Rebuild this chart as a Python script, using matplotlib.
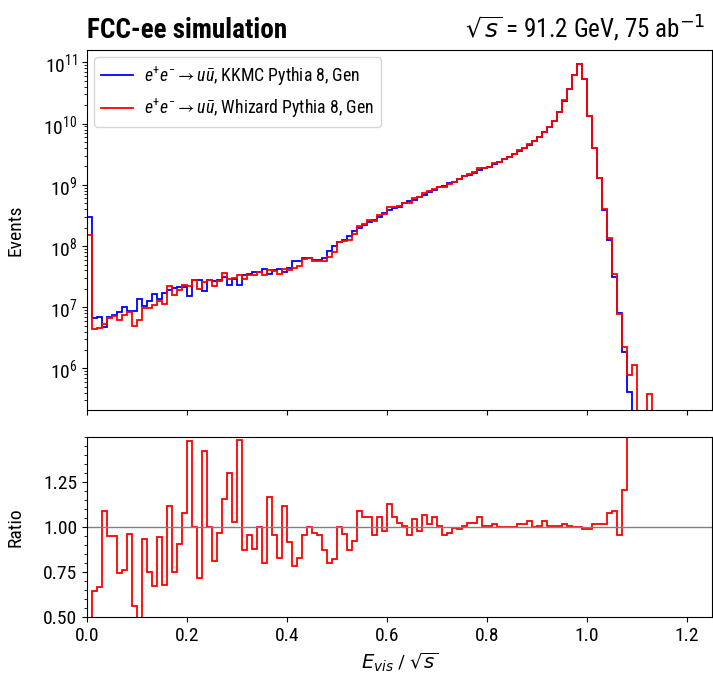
import numpy as np
import matplotlib
matplotlib.use('Agg')
import matplotlib.pyplot as plt
from matplotlib.ticker import MultipleLocator, LogLocator, FixedLocator, NullFormatter

# ---------------- data ----------------
bin_lo, bin_hi, bin_w = 0.0, 1.25, 0.01

kkmc_log10 = [8.47, 6.83, 6.84, 6.68, 6.84, 6.87, 6.93, 7.00, 6.94, 6.94,
              7.14, 7.02, 7.11, 7.21, 7.13, 7.23, 7.29, 7.32, 7.33, 7.33,
              7.18, 7.44, 7.44, 7.26, 7.44, 7.43, 7.44, 7.50, 7.36, 7.47,
              7.36, 7.52, 7.54, 7.58, 7.58, 7.63, 7.54, 7.61, 7.63, 7.58,
              7.65, 7.75, 7.75, 7.81, 7.81, 7.77, 7.77, 7.81, 7.92, 8.00,
              8.07, 8.10, 8.16, 8.24, 8.29, 8.34, 8.40, 8.43, 8.48, 8.54,
              8.59, 8.62, 8.64, 8.70, 8.73, 8.76, 8.81, 8.84, 8.89, 8.92,
              8.96, 8.99, 9.03, 9.05, 9.09, 9.14, 9.16, 9.20, 9.25, 9.27,
              9.30, 9.34, 9.38, 9.42, 9.46, 9.50, 9.56, 9.60, 9.66, 9.71,
              9.79, 9.86, 9.95, 10.04, 10.19, 10.37, 10.56, 10.80, 10.97, 10.73,
              10.13, 9.60, 9.11, 8.59, 8.10, 7.50, 6.91, 6.27, 5.61]

whizard_log10 = [8.18, 6.64, 6.66, 6.72, 6.82, 6.85, 6.80, 6.88, 6.92, 6.69,
                 6.79, 6.99, 6.99, 7.04, 7.10, 7.06, 7.34, 7.20, 7.29, 7.36,
                 7.35, 7.44, 7.30, 7.41, 7.44, 7.34, 7.43, 7.56, 7.47, 7.48,
                 7.53, 7.46, 7.52, 7.52, 7.58, 7.53, 7.61, 7.59, 7.55, 7.63,
                 7.61, 7.64, 7.67, 7.79, 7.81, 7.76, 7.75, 7.75, 7.82, 7.91,
                 8.07, 8.08, 8.10, 8.20, 8.33, 8.36, 8.42, 8.41, 8.50, 8.53,
                 8.64, 8.64, 8.65, 8.70, 8.71, 8.78, 8.80, 8.87, 8.90, 8.94,
                 8.96, 8.97, 9.02, 9.05, 9.09, 9.14, 9.17, 9.21, 9.27, 9.27,
                 9.30, 9.35, 9.38, 9.42, 9.46, 9.50, 9.57, 9.61, 9.67, 9.71,
                 9.79, 9.87, 9.95, 10.04, 10.19, 10.38, 10.56, 10.80, 10.97, 10.73,
                 10.13, 9.61, 9.12, 8.60, 8.13, 7.54, 6.89, 6.35, 5.89, 6.05,
                 None, None, 5.59]

ratio = [0.48, 0.646, 0.667, 1.088, 0.948, 0.948, 0.742, 0.760, 0.959, 0.563,
         0.45, 0.933, 0.751, 0.674, 0.942, 0.68, 1.114, 0.75, 0.906, 1.079,
         1.476, 1.0, 0.717, 1.423, 1.0, 0.811, 0.966, 1.157, 1.298, 1.026,
         1.485, 0.872, 0.957, 0.88, 1.0, 0.798, 1.167, 0.955, 0.83, 1.114,
         0.914, 0.783, 0.83, 0.955, 1.0, 0.968, 0.955, 0.87, 0.80, 0.82,
         1.0, 0.96, 0.872, 0.92, 1.088, 1.054, 1.054, 0.953, 1.058, 0.98,
         1.129, 1.054, 1.02, 1.006, 0.953, 1.045, 0.98, 1.066, 1.019, 1.058,
         1.006, 0.953, 0.968, 0.996, 0.991, 1.006, 1.024, 1.024, 1.053, 1.006,
         1.006, 1.015, 1.0, 1.0, 1.0, 1.0, 1.015, 1.015, 1.034, 1.0,
         1.006, 1.034, 1.006, 1.006, 1.006, 1.015, 1.006, 1.0, 1.0, 0.991,
         0.991, 1.019, 1.019, 1.019, 1.077, 1.09, 0.953, 1.208, 1.9]

labels = [r"$e^{+}e^{-} \rightarrow u\bar{u}$, KKMC Pythia 8, Gen",
          r"$e^{+}e^{-} \rightarrow u\bar{u}$, Whizard Pythia 8, Gen"]
colors = ['blue', 'red']
xticks = [0.0, 0.2, 0.4, 0.6, 0.8, 1.0, 1.2]
ratio_ticks = [0.50, 0.75, 1.00, 1.25]

# ---------------- build ----------------
edges = np.round(np.arange(bin_lo, bin_hi + bin_w / 2, bin_w), 2)
nb = len(edges) - 1


def to_counts(lst):
    out = np.zeros(nb)
    for i, v in enumerate(lst):
        if v is not None:
            out[i] = 10.0 ** v
    return out


kkmc = to_counts(kkmc_log10)
whizard = to_counts(whizard_log10)

plt.rcParams['font.family'] = ['Roboto Condensed', 'DejaVu Sans']
plt.rcParams['mathtext.fontset'] = 'custom'
plt.rcParams['mathtext.rm'] = 'Roboto Condensed'
plt.rcParams['mathtext.sf'] = 'Roboto Condensed'
plt.rcParams['mathtext.it'] = 'Roboto Condensed:italic'
plt.rcParams['mathtext.bf'] = 'Roboto Condensed:bold'
plt.rcParams['mathtext.fallback'] = 'stixsans'

fig = plt.figure(figsize=(7.13, 6.85), dpi=100)
ax = fig.add_axes([0.122, 0.4015, 0.8766, 0.5255])
rax = fig.add_axes([0.122, 0.0993, 0.8766, 0.2628], sharex=ax)

for vals, c, lab in zip([kkmc, whizard], colors, labels):
    ax.stairs(vals, edges, baseline=0, color=c, lw=1.3, label=lab)

ax.set_yscale('log')
ax.set_ylim(2.1e5, 1.6e11)
ax.set_xlim(0.0, 1.25)
ax.yaxis.set_major_locator(LogLocator(base=10, numticks=20))
ax.yaxis.set_minor_locator(LogLocator(base=10, subs=np.arange(2, 10), numticks=20))
ax.yaxis.set_minor_formatter(NullFormatter())
ax.tick_params(axis='x', labelbottom=False)
ax.tick_params(labelsize=14)
ax.set_ylabel('Events', fontsize=14)
ax.yaxis.set_label_coords(-0.1, 0.5)

leg = ax.legend(loc='upper left', fontsize=12.8, handlelength=1.8, handletextpad=0.6,
                labelspacing=0.5, borderaxespad=0.4, framealpha=0.8)

ax.text(0.0, 1.033, 'FCC-ee simulation', transform=ax.transAxes,
        fontsize=19.5, fontweight='bold', ha='left', va='baseline')
ax.text(0.99, 1.033, r'$\sqrt{s}$ = 91.2 GeV, 75 ab$^{-1}$', transform=ax.transAxes,
        fontsize=18, ha='right', va='baseline', math_fontfamily='dejavusans')

rax.stairs(ratio, edges[:len(ratio) + 1], baseline=None, color='red', lw=1.3)
rax.axhline(1.0, color='gray', lw=1)
rax.set_ylim(0.5, 1.5)
rax.yaxis.set_major_locator(FixedLocator(ratio_ticks))
rax.yaxis.set_minor_locator(MultipleLocator(0.05))
rax.yaxis.set_major_formatter(plt.FormatStrFormatter('%.2f'))
rax.set_xticks(xticks)
rax.tick_params(labelsize=14)
rax.set_ylabel('Ratio', fontsize=14)
rax.yaxis.set_label_coords(-0.1, 0.5)
rax.set_xlabel(r'$E_{vis}$ / $\sqrt{s}$', fontsize=14, math_fontfamily='dejavusans')

fig.savefig('out.png', dpi=100)
